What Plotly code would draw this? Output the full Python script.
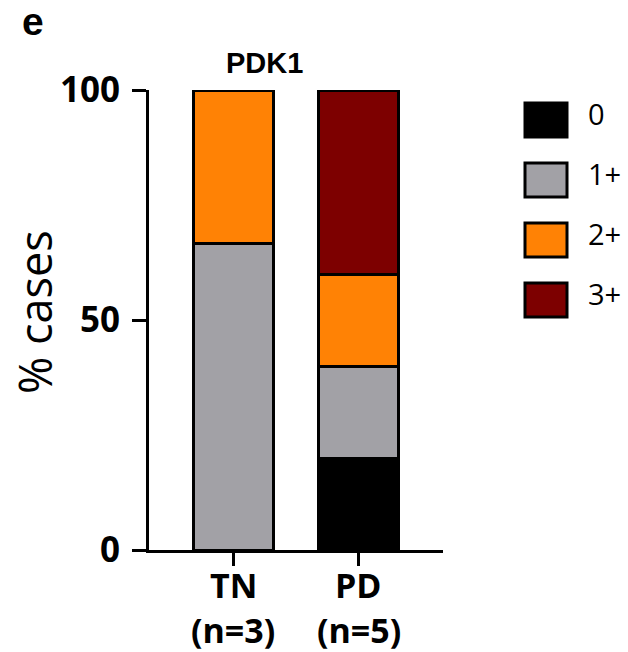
import plotly.graph_objects as go

# ---- data ----
categories = ["TN", "PD"]
n_labels = ["(n=3)", "(n=5)"]
score_levels = ["0", "1+", "2+", "3+"]
pct_0 = [0, 20]
pct_1 = [66.67, 20]
pct_2 = [33.33, 20]
pct_3 = [0, 40]
series_values = [pct_0, pct_1, pct_2, pct_3]
colors = ["#000000", "#A2A1A6", "#FF8205", "#7D0000"]
y_ticks = [0, 50, 100]
title_text = "PDK1"
panel_letter = "e"
y_title = "% cases"

W, H = 628, 652
L, R, T, B = 149, 185, 90, 102
PW, PH = W - L - R, H - T - B

def px(xp):
    return (xp - L) / PW

def py(yp):
    return (H - B - yp) / PH

fig = go.Figure()
for name, vals, col in zip(score_levels, series_values, colors):
    fig.add_trace(go.Bar(
        x=categories, y=vals, name=name,
        marker=dict(color=col, line=dict(color="black", width=3)),
        width=0.635, showlegend=False,
    ))

fig.update_layout(
    barmode="stack",
    width=W, height=H,
    margin=dict(l=L, r=R, t=T, b=B, autoexpand=False),
    paper_bgcolor="white", plot_bgcolor="white",
    showlegend=False,
)
fig.update_xaxes(
    range=[-0.667, 1.667], automargin=False,
    showline=True, linecolor="black", linewidth=3,
    ticks="outside", ticklen=13, tickwidth=3, tickcolor="black",
    showticklabels=False,
    showgrid=False, zeroline=False,
)
fig.update_yaxes(
    range=[0, 100], tickvals=y_ticks, automargin=False,
    showline=True, linecolor="black", linewidth=3,
    ticks="outside", ticklen=14, tickwidth=3, tickcolor="black",
    tickfont=dict(family="Open Sans", size=35, color="black", weight="bold"),
    ticklabelstandoff=5,
    showgrid=False, zeroline=False,
)

bold_tick = dict(family="Open Sans", size=34, color="black", weight="bold")
annotations = [
    dict(text=title_text, x=px(264), y=py(63), xref="paper", yref="paper",
         showarrow=False, font=dict(family="Liberation Sans", size=29, color="black", weight="bold"),
         xanchor="center", yanchor="middle"),
    dict(text=panel_letter, x=px(33), y=py(21), xref="paper", yref="paper",
         showarrow=False, font=dict(family="Liberation Sans", size=39, color="black", weight="bold"),
         xanchor="center", yanchor="middle"),
    dict(text=y_title, x=px(34), y=py(312), xref="paper", yref="paper", textangle=-90,
         showarrow=False, font=dict(family="Open Sans", size=45, color="black"),
         xanchor="center", yanchor="middle"),
]
for cat, nl in zip(categories, n_labels):
    annotations.append(dict(text=cat, x=cat, xref="x", y=py(584.5), yref="paper",
                            showarrow=False, xanchor="center", yanchor="middle", font=bold_tick))
    annotations.append(dict(text=nl, x=cat, xref="x", y=py(630), yref="paper",
                            showarrow=False, xanchor="center", yanchor="middle", font=bold_tick))

shapes = []
leg_centers = [120, 180, 240, 300]
for name, col, cy in zip(score_levels, colors, leg_centers):
    shapes.append(dict(type="rect", xref="paper", yref="paper",
                       x0=px(525), x1=px(567), y0=py(cy + 17), y1=py(cy - 17),
                       fillcolor=col, line=dict(color="black", width=3)))
    annotations.append(dict(text=name, x=px(586), y=py(cy - 7), xref="paper", yref="paper",
                            showarrow=False, xanchor="left", yanchor="middle",
                            font=dict(family="Open Sans", size=29, color="black")))
fig.update_layout(annotations=annotations, shapes=shapes)

fig.write_html(
    "out.html",
    config={"displayModeBar": False},
    post_script="document.body.style.margin='0';document.body.style.overflow='hidden';",
)
